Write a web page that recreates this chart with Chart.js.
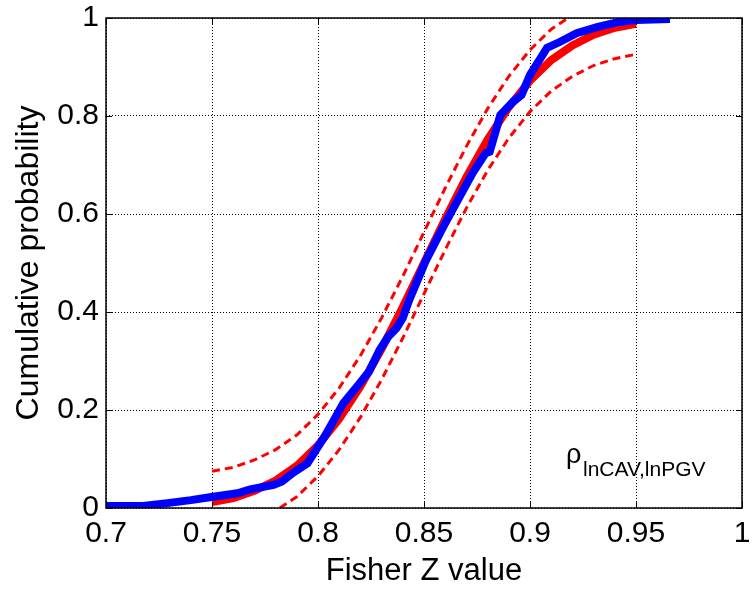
<!DOCTYPE html>
<html>
<head>
<meta charset="utf-8">
<script src="https://cdn.jsdelivr.net/npm/chart.js@4"></script>
<style>
  body { margin: 0; background: #fff; }
  #chart-wrap { width: 752px; height: 590px; }
</style>
</head>
<body>
<div id="chart-wrap"><canvas id="chart" width="752" height="590"></canvas></div>
<script>
// tick values / labels
const xTicks = [0.7, 0.75, 0.8, 0.85, 0.9, 0.95, 1];
const xTickLabels = ['0.7', '0.75', '0.8', '0.85', '0.9', '0.95', '1'];
const yTicks = [0, 0.2, 0.4, 0.6, 0.8, 1];
const yTickLabels = ['0', '0.2', '0.4', '0.6', '0.8', '1'];

// fitted CDF (red solid)
const fitX = [0.75, 0.76, 0.77, 0.78, 0.79, 0.80, 0.81, 0.82, 0.83, 0.84, 0.85,
              0.86, 0.87, 0.88, 0.89, 0.90, 0.91, 0.92, 0.93, 0.94, 0.95];
const fitY = [0.012, 0.020, 0.035, 0.056, 0.086, 0.128, 0.182, 0.248, 0.325, 0.410, 0.500,
              0.590, 0.675, 0.752, 0.818, 0.872, 0.914, 0.944, 0.966, 0.980, 0.988];

// upper / lower confidence bounds (red dashed)
const upperX = [0.75, 0.76, 0.77, 0.78, 0.79, 0.80, 0.81, 0.82, 0.83, 0.84, 0.85,
                0.86, 0.87, 0.88, 0.89, 0.90, 0.91, 0.918];
const upperY = [0.075, 0.083, 0.098, 0.119, 0.149, 0.191, 0.245, 0.311, 0.388, 0.473, 0.563,
                0.653, 0.738, 0.815, 0.881, 0.935, 0.977, 1.0];
const lowerX = [0.782, 0.79, 0.80, 0.81, 0.82, 0.83, 0.84, 0.85, 0.86, 0.87, 0.88,
                0.89, 0.90, 0.91, 0.92, 0.93, 0.94, 0.95];
const lowerY = [0.0, 0.023, 0.065, 0.119, 0.185, 0.262, 0.347, 0.437, 0.527, 0.612, 0.689,
                0.755, 0.809, 0.851, 0.881, 0.903, 0.917, 0.926];

// empirical CDF (blue)
const empX = [0.700, 0.7175, 0.729, 0.740, 0.749, 0.762, 0.768, 0.779, 0.783, 0.788, 0.795,
              0.800, 0.803, 0.806, 0.812, 0.819, 0.824, 0.829, 0.833, 0.837, 0.840, 0.843,
              0.851, 0.859, 0.866, 0.873, 0.879, 0.881, 0.886, 0.892, 0.896, 0.900, 0.905,
              0.908, 0.914, 0.922, 0.932, 0.942, 0.950, 0.966];
const empY = [0.004, 0.004, 0.010, 0.016, 0.022, 0.030, 0.038, 0.047, 0.054, 0.071, 0.091,
              0.125, 0.145, 0.168, 0.214, 0.251, 0.278, 0.322, 0.349, 0.367, 0.388, 0.424,
              0.506, 0.573, 0.629, 0.684, 0.724, 0.727, 0.802, 0.829, 0.843, 0.884, 0.918,
              0.939, 0.951, 0.969, 0.982, 0.992, 0.996, 0.998];

function pts(xs, ys) {
    return xs.map((x, i) => ({ x: x, y: ys[i] }));
}

const FONT = 'Arial, "Liberation Sans", Helvetica, sans-serif';

// box + inward ticks + rho label
const frame = {
    id: 'frame',
    afterDraw(chart) {
        const ctx = chart.ctx;
        const a = chart.chartArea;
        const xs = chart.scales.x, ys = chart.scales.y;
        ctx.save();
        ctx.strokeStyle = '#000';
        ctx.lineWidth = 1.5;
        ctx.strokeRect(a.left, a.top, a.right - a.left, a.bottom - a.top);
        ctx.lineWidth = 1;
        ctx.beginPath();
        xTicks.forEach(v => {
            const px = Math.round(xs.getPixelForValue(v)) + 0.5;
            ctx.moveTo(px, a.bottom); ctx.lineTo(px, a.bottom - 6);
            ctx.moveTo(px, a.top); ctx.lineTo(px, a.top + 6);
        });
        yTicks.forEach(v => {
            const py = Math.round(ys.getPixelForValue(v)) + 0.5;
            ctx.moveTo(a.left, py); ctx.lineTo(a.left + 6, py);
            ctx.moveTo(a.right, py); ctx.lineTo(a.right - 6, py);
        });
        ctx.stroke();

        // annotation
        ctx.fillStyle = '#000';
        ctx.textBaseline = 'alphabetic';
        ctx.font = '27px ' + FONT;
        ctx.fillText('ρ', 566, 463);
        ctx.font = '21px ' + FONT;
        ctx.fillText('lnCAV,lnPGV', 583, 476);
        ctx.restore();
    }
};

const chart = new Chart(document.getElementById('chart'), {
    type: 'line',
    data: {
        datasets: [{
            data: pts(fitX, fitY),
            borderColor: '#ff0000',
            borderWidth: 8,
            pointRadius: 0,
            borderCapStyle: 'butt',
            order: 4
        }, {
            data: pts(empX, empY),
            borderColor: '#0000ff',
            borderWidth: 8,
            pointRadius: 0,
            order: 3
        }, {
            data: pts(upperX, upperY),
            borderColor: '#ff0000',
            borderWidth: 3,
            borderDash: [8, 5],
            pointRadius: 0,
            order: 2
        }, {
            data: pts(lowerX, lowerY),
            borderColor: '#ff0000',
            borderWidth: 3,
            borderDash: [8, 5],
            pointRadius: 0,
            order: 1
        }]
    },
    options: {
        responsive: false,
        animation: false,
        layout: { padding: { top: 18, right: 10, left: 0, bottom: 0 } },
        plugins: { legend: { display: false }, tooltip: { enabled: false } },
        scales: {
            x: {
                type: 'linear',
                min: 0.7,
                max: 1,
                afterBuildTicks: s => { s.ticks = xTicks.map(v => ({ value: v })); },
                afterFit: s => { s.height = 82; s.paddingLeft = 0; s.paddingRight = 0; },
                ticks: {
                    color: '#000',
                    font: { family: FONT, size: 30 },
                    padding: 8,
                    maxRotation: 0,
                    autoSkip: false,
                    callback: (v, i) => xTickLabels[i]
                },
                grid: { color: '#000', lineWidth: 1, drawTicks: false },
                border: { display: false, dash: [1, 2] },
                title: {
                    display: true,
                    text: 'Fisher Z value',
                    color: '#000',
                    font: { family: FONT, size: 31 },
                    padding: { top: 0, bottom: 0 }
                }
            },
            y: {
                type: 'linear',
                min: 0,
                max: 1,
                afterBuildTicks: s => { s.ticks = yTicks.map(v => ({ value: v })); },
                afterFit: s => { s.width = 106; s.paddingTop = 0; s.paddingBottom = 0; },
                ticks: {
                    color: '#000',
                    font: { family: FONT, size: 30 },
                    padding: 7,
                    callback: (v, i) => yTickLabels[i]
                },
                grid: { color: '#000', lineWidth: 1, drawTicks: false },
                border: { display: false, dash: [1, 2] },
                title: {
                    display: true,
                    text: 'Cumulative probability',
                    color: '#000',
                    font: { family: FONT, size: 32 },
                    padding: { top: 10, bottom: 0 }
                }
            }
        }
    },
    plugins: [frame]
});
</script>
</body>
</html>
